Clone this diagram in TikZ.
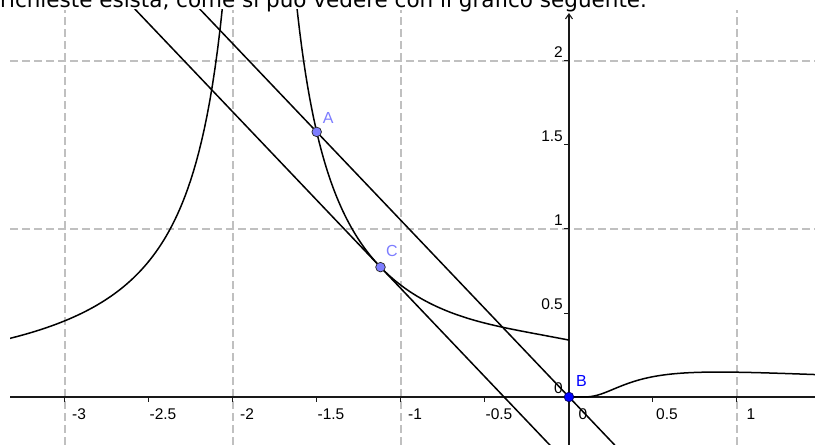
\documentclass[tikz,border=0pt]{standalone}
\usepackage{fontspec}
\setmainfont{Liberation Sans}
\newfontfamily\testofont{DejaVu Sans}
\usetikzlibrary{arrows.meta, positioning, calc}

\definecolor{gridgray}{RGB}{192,192,192}
\definecolor{onpath}{RGB}{125,125,255}
\definecolor{freeblue}{RGB}{0,0,255}

\begin{document}
\begin{tikzpicture}[
    x=168pt, y=168pt,
    font=\fontsize{15.5}{18}\selectfont,
    gridline/.style={
      draw=gridgray,
      line width=1.3pt,
      dash pattern=on 8pt off 4pt
    },
    axisline/.style={
      draw=black!90,
      line width=1.1pt
    },
    tickmark/.style={
      draw=black!90,
      line width=1pt
    },
    fcurve/.style={
      draw=black,
      line width=1.5pt
    },
    secant/.style={
      draw=black,
      line width=1.5pt
    },
    pathpt/.style={
      circle,
      draw=black!85,
      line width=0.7pt,
      fill=onpath,
      minimum size=9.6pt,
      inner sep=0pt
    },
    freept/.style={
      pathpt,
      fill=freeblue,
      draw=blue!40!black
    },
    ptlabel/.style={
      anchor=base west,
      inner sep=0pt,
      font=\fontsize{16}{19}\selectfont,
      text=onpath
    },
    xnum/.style={anchor=base, inner sep=0pt},
    ynum/.style={anchor=base east, inner sep=0pt},
    caption/.style={
      anchor=base west,
      inner sep=0pt,
      font=\testofont\fontsize{21.5}{24}\selectfont
    }
  ]

    \useasboundingbox (-3.3869,-0.2857) rectangle (1.4643,2.3631);
    \fill[white] (-3.3869,-0.2857) rectangle (1.4643,2.3631);

    % Points of the construction
    \coordinate (pA) at (-1.5018,1.578);
    \coordinate (pB) at (0,0);
    \coordinate (pC) at (-1.122,0.773);

    \begin{scope}
      \clip (-3.327,-0.2857) rectangle (1.4643,2.3036);

      % Grid
      \foreach \g in {-3,-2,-1,1}
        \draw[gridline] (\g,-0.2857) -- (\g,2.3036);
      \foreach \g in {1,2}
        \draw[gridline] (-3.327,\g) -- (1.4643,\g);

      % Axes
      \draw[axisline, -{Straight Barb[length=5pt, width=7pt]}] (-3.327,0) -- (1.52,0);
      \draw[axisline, -{Straight Barb[length=5pt, width=7pt]}] (0,-0.2857) -- (0,2.2857);
      \foreach \t in {-3,-2.5,...,1}
        \draw[tickmark] (\t,0) -- ++(0,-5pt);
      \foreach \t in {0.5,1,...,2}
        \draw[tickmark] (0,\t) -- ++(-5pt,0);

      % Graph of the function
      \draw[fcurve] plot[domain=-3.33:-2.058, samples=80]
        (\x,{0.57/(-1.82-(\x))-0.029});
      \draw[fcurve] plot[domain=-1.626:0, samples=140]
        (\x,{0.592/(\x+1.873)-0.017+0.041*exp(-(\x+0.1)*(\x+0.1)/0.3387)});
      \draw[fcurve] (pB) -- plot[domain=0.1:1.47, samples=60]
        (\x,{0.36*exp(-0.892/\x)/\x});

      % Secant AB and the parallel tangent in C
      \draw[secant] ($(pB)!2.6!(pA)$) -- ($(pB)!-0.5!(pA)$);
      \draw[secant] ($(pC)+1.6*(pA)-1.6*(pB)$) -- ($(pC)-1.0*(pA)+1.0*(pB)$);
    \end{scope}

    % Axis numbers
    \foreach \v/\s [count=\k] in {-3/-3,-2.5/-2.5,-2/-2,-1.5/-1.5,-1/-1,-0.5/-0.5,0/0,0.5/0.5,1/1}
      \node[xnum] (xn\k) at ({\v+0.0833},-0.131) {\s};
    \foreach \v [count=\k] in {0,0.5,1,1.5,2}
      \node[ynum] (yn\k) at (-0.0357,{\v+0.0179}) {\v};

    % Points and labels
    \node[pathpt] (A) at (pA) {};
    \node[pathpt] (C) at (pC) {};
    \node[freept] (B) at (pB) {};
    \node[ptlabel] (labA) at ($(pA)+(6pt,8.7pt)$) {A};
    \node[ptlabel] (labC) at ($(pC)+(5.5pt,10.3pt)$) {C};
    \node[ptlabel, text=freeblue] (labB) at ($(pB)+(7pt,10.3pt)$) {B};

    % Text above the picture
    \node[caption] (testo) at (-3.3869,2.3185)
      {richieste esista, come si può vedere con il grafico seguente.};

  \end{tikzpicture}
\end{document}
